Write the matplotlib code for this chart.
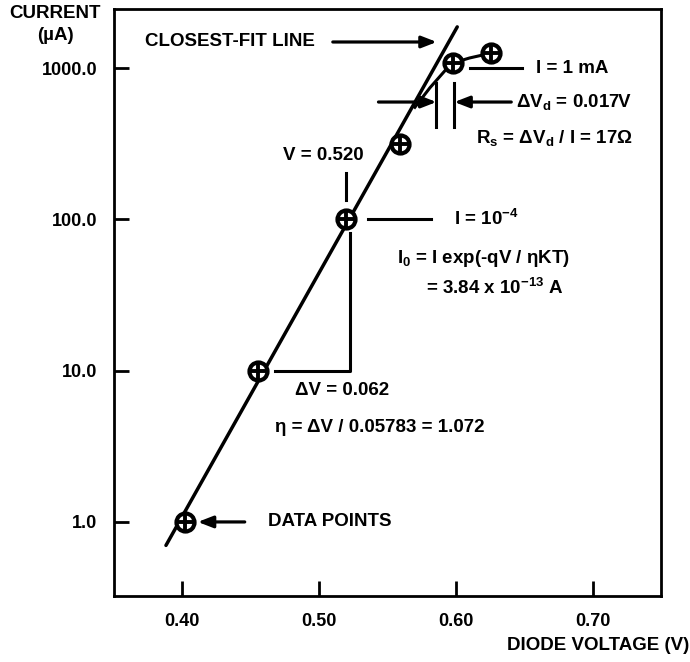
import numpy as np
from matplotlib import pyplot as plt

plt.rcParams['font.family'] = ['Liberation Sans', 'DejaVu Sans']
plt.rcParams['mathtext.fontset'] = 'custom'
plt.rcParams['mathtext.rm'] = 'Liberation Sans:bold'
plt.rcParams['mathtext.it'] = 'Liberation Sans:bold'
plt.rcParams['mathtext.bf'] = 'Liberation Sans:bold'
plt.rcParams['mathtext.default'] = 'rm'

# measured diode points (V, uA)
volts = [0.402, 0.455, 0.520, 0.559, 0.598, 0.626]
current = [1.0, 10.0, 100.0, 315.0, 1080.0, 1256.0]

# closest-fit line end points
fit_v = [0.388, 0.601]
fit_i = [0.70, 1870.0]

# knee where series resistance bends the curve away
knee_v = [0.570, 0.581, 0.592, 0.598, 0.610, 0.626]
knee_i = [550.0, 740.0, 960.0, 1080.0, 1165.0, 1256.0]

xticks = [0.40, 0.50, 0.60, 0.70]
xlabels = ['0.40', '0.50', '0.60', '0.70']
yticks = [1.0, 10.0, 100.0, 1000.0]
ylabels = ['1.0', '10.0', '100.0', '1000.0']

fs = 13.5
fw = 'bold'

fig = plt.figure(figsize=(6.9, 6.62), dpi=100)
ax = fig.add_axes([114/690, 1-596/662, (661-114)/690, (596-9)/662])
ax.set_yscale('log')
ax.set_xlim(0.35, 0.75)
ax.set_ylim(0.324, 2455)

ax.plot(fit_v, fit_i, color='black', lw=2.5, solid_capstyle='round')
ax.plot(knee_v, knee_i, color='black', lw=2.2)
ax.plot(volts, current, 'o', ms=13, mfc='white', mec='black', mew=3.0)
ax.plot(volts, current, '+', ms=11, mec='black', mew=2.8)

for s in ax.spines.values():
    s.set_linewidth(2.0)
ax.set_xticks(xticks)
ax.set_xticklabels(xlabels)
ax.set_yticks(yticks)
ax.set_yticklabels(ylabels)
ax.minorticks_off()
ax.tick_params(direction='in', length=11, width=2.0, labelsize=13, pad=12)
for lab in ax.get_xticklabels() + ax.get_yticklabels():
    lab.set_fontweight(fw)

fig.text(55/690, 1-14/662, 'CURRENT', ha='center', va='center', fontsize=fs, fontweight=fw)
fig.text(55/690, 1-35/662, '(µA)', ha='center', va='center', fontsize=fs, fontweight=fw)
fig.text(689/690, 1-645/662, 'DIODE VOLTAGE (V)', ha='right', va='center', fontsize=fs, fontweight=fw)

arrow = dict(arrowstyle='-|>,head_length=0.9,head_width=0.35', color='black', lw=2.3, shrinkA=0, shrinkB=0)
plain = dict(color='black', lw=2.2)

# closest-fit label
ax.text(0.3726, 1486, 'CLOSEST-FIT LINE', ha='left', va='center', fontsize=fs, fontweight=fw)
ax.annotate('', xy=(0.586, 1486), xytext=(0.510, 1486), arrowprops=arrow)

# I = 1 mA
ax.plot([0.610, 0.6485], [1000, 1000], **plain)
ax.text(0.6588, 1000, 'I = 1 mA', ha='left', va='center', fontsize=fs, fontweight=fw)

# delta Vd markers
ax.plot([0.5858, 0.5858], [407, 796], **plain)
ax.plot([0.5989, 0.5989], [407, 796], **plain)
ax.annotate('', xy=(0.5858, 596), xytext=(0.5434, 596), arrowprops=arrow)
ax.annotate('', xy=(0.5989, 596), xytext=(0.6405, 596), arrowprops=arrow)
ax.text(0.6442, 596, r'ΔV$_{d}$ = 0.017V', ha='left', va='center', fontsize=fs, fontweight=fw)
ax.text(0.615, 344, r'R$_{s}$ = ΔV$_{d}$ / I = 17Ω', ha='left', va='center', fontsize=fs, fontweight=fw)

# V = 0.520
ax.text(0.4734, 266, 'V = 0.520', ha='left', va='center', fontsize=fs, fontweight=fw)
ax.plot([0.5193, 0.5193], [134, 202], **plain)

# I = 10^-4
ax.plot([0.5354, 0.5821], [100, 100], **plain)
ax.text(0.5989, 100, r'I = 10$^{-4}$', ha='left', va='center', fontsize=fs, fontweight=fw)
ax.text(0.5573, 55.4, r'I$_{0}$ = I exp(-qV / ηKT)', ha='left', va='center', fontsize=fs, fontweight=fw)
ax.text(0.5785, 35.1, r'= 3.84 x 10$^{-13}$ A', ha='left', va='center', fontsize=fs, fontweight=fw)

# slope triangle
ax.plot([0.4675, 0.5223, 0.5223], [10, 10, 81], **plain)
ax.text(0.4821, 7.44, 'ΔV = 0.062', ha='left', va='center', fontsize=fs, fontweight=fw)
ax.text(0.4675, 4.18, 'η = ΔV / 0.05783 = 1.072', ha='left', va='center', fontsize=fs, fontweight=fw)

# data points label
ax.annotate('', xy=(0.4113, 1.0), xytext=(0.4456, 1.0), arrowprops=arrow)
ax.text(0.4624, 1.0, 'DATA POINTS', ha='left', va='center', fontsize=fs, fontweight=fw)

plt.savefig('out.png', dpi=100)
